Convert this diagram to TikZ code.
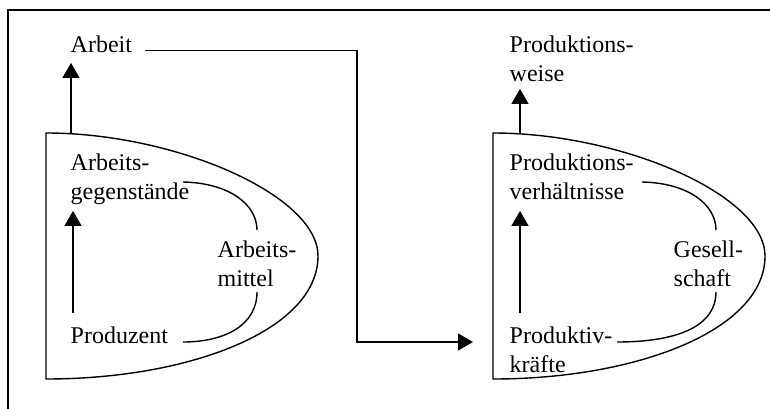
\documentclass[tikz,border=0pt]{standalone}
\usepackage{fontspec}
\setmainfont{Liberation Serif}
\usetikzlibrary{arrows.meta}
\begin{document}
\begin{tikzpicture}[x=1pt,y=-1pt,line width=1.4pt,
  txt/.style={anchor=base west,inner sep=0pt,align=left,font=\fontsize{24}{29}\selectfont},
  pfeil/.style={-{Triangle[width=17pt,length=15pt]}}]
\useasboundingbox (0,0) rectangle (770,409);
\draw[line width=2pt] (770,10) -- (8,10) -- (8,409);
% Arbeit
\draw (46,133) .. controls (175,133) and (318,195) .. (318,256)
  .. controls (318,330) and (190,379) .. (46,379) -- cycle;
\draw (183,182) .. controls (230,183) and (257,205) .. (257,230);
\draw (257,292) .. controls (257,325) and (225,342) .. (183,342);
\node[txt] (arbeit) at (70,53) {Arbeit};
\node[txt] (gegen) at (70,199) {Arbeits-\\gegenstände};
\node[txt] (mittel) at (217,286) {Arbeits-\\mittel};
\node[txt] (produzent) at (70,343) {Produzent};
\coordinate (d1top) at (71,133);
\coordinate (d1in) at (73,313);
\draw[pfeil,shorten >=9pt] (d1top) -- (d1top |- arbeit.south);
\draw[pfeil,shorten >=6pt] (d1in) -- (d1in |- gegen.south);
% Produktion
\draw (493,133) .. controls (622,133) and (765,195) .. (765,256)
  .. controls (765,330) and (637,379) .. (493,379) -- cycle;
\draw (642,182) .. controls (689,183) and (716,205) .. (716,230);
\draw (716,292) .. controls (716,325) and (680,342) .. (617,342);
\node[txt] (weise) at (509,82) {Produktions-\\weise};
\node[txt] (verh) at (509,199) {Produktions-\\verhältnisse};
\node[txt] (gesell) at (673,286) {Gesell-\\schaft};
\node[txt] (kraefte) at (509,372) {Produktiv-\\kräfte};
\coordinate (d2top) at (520,133);
\coordinate (d2in) at (520,313);
\draw[pfeil,shorten >=6pt] (d2top) -- (d2top |- weise.south);
\draw[pfeil,shorten >=11pt] (d2in) -- (d2in |- verh.south);
% Verbindung
\coordinate (knick) at (357,342);
\coordinate (d2left) at (493,342);
\draw[pfeil,shorten <=12pt,shorten >=20pt] (arbeit.mid east) -| (knick) -- (d2left);
\end{tikzpicture}
\end{document}
